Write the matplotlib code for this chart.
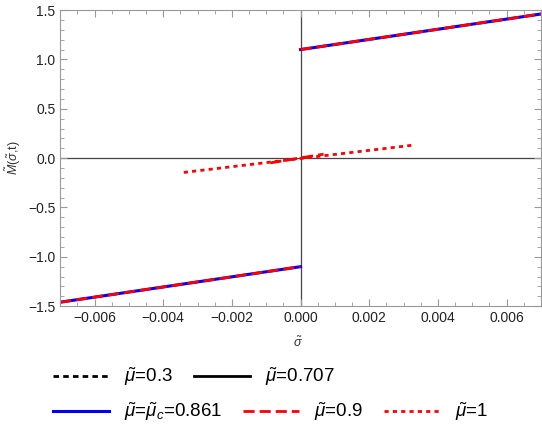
import matplotlib.pyplot as plt
import numpy as np
from matplotlib.ticker import MultipleLocator

plt.rcParams['font.family'] = ['Liberation Sans', 'DejaVu Sans']
plt.rcParams['mathtext.fontset'] = 'custom'
plt.rcParams['mathtext.rm'] = 'Liberation Sans'
plt.rcParams['mathtext.it'] = 'Liberation Sans:italic'

# curves (nan splits the branches)
sig_c = [-0.007, 0.0, np.nan, 0.0, 0.007]
M_c = [-1.46, -1.10, np.nan, 1.10, 1.46]
sig_09 = [-0.007, 0.0, np.nan, 0.0, 0.007, np.nan, -0.00088, 0.00067]
M_09 = [-1.46, -1.10, np.nan, 1.10, 1.46, np.nan, -0.048, 0.040]
sig_1 = [-0.0034, 0.00324]
M_1 = [-0.145, 0.13]

fig = plt.figure(figsize=(5.42, 4.38), dpi=100)
ax = fig.add_axes([0.111, 0.301, 0.887, 0.676])

# mu=0.3 and mu=0.707 fall outside the window, legend only
l03, = ax.plot([], [], color='black', ls=(0, (2, 1.5)), lw=2)
l07, = ax.plot([], [], color='black', ls='-', lw=2)
lc, = ax.plot(sig_c, M_c, color='#0000ff', lw=2.2)
l09, = ax.plot(sig_09, M_09, color='#ff0000', ls=(0, (4, 1.8)), lw=2)
l1, = ax.plot(sig_1, M_1, color='#ff0000', ls=(0, (1.5, 1.5)), lw=2)

ax.axhline(0, color='#444444', lw=0.9, zorder=0)
ax.axvline(0, color='#444444', lw=0.9, zorder=0)

ax.set_xlim(-0.007, 0.007)
ax.set_ylim(-1.5, 1.5)
ax.xaxis.set_minor_locator(MultipleLocator(0.0005))
ax.yaxis.set_minor_locator(MultipleLocator(0.1))
ax.set_xticks([-0.006, -0.004, -0.002, 0, 0.002, 0.004, 0.006])
ax.set_xticklabels(['\u22120.006', '\u22120.004', '\u22120.002', '0.000', '0.002', '0.004', '0.006'])
ax.set_yticks([-1.5, -1.0, -0.5, 0, 0.5, 1.0, 1.5])
ax.set_yticklabels(['\u22121.5', '\u22121.0', '\u22120.5', '0.0', '0.5', '1.0', '1.5'])
ax.tick_params(which='both', direction='in', top=True, right=True, colors='#999999',
               labelcolor='#222222', labelsize=10)
ax.tick_params(which='major', length=5)
ax.tick_params(which='minor', length=3)
for s in ax.spines.values():
    s.set_color('#999999')

fig.text(0.55, 0.217, r'$\tilde{\sigma}$', ha='center', va='center', fontsize=9, color='#333333')
fig.text(0.025, 0.64, r'$\tilde{M}(\tilde{\sigma}$,t)', rotation=90, ha='center', va='center',
         fontsize=9, color='#333333')

kw = dict(frameon=False, fontsize=13.5, handlelength=3.0, handletextpad=0.8,
          columnspacing=1.1, loc='center left', borderpad=0, borderaxespad=0)
leg1 = fig.legend([l03, l07], [r'$\tilde{\mu}$=0.3', r'$\tilde{\mu}$=0.707'],
                  ncol=2, bbox_to_anchor=(0.098, 0.139), **kw)
leg2 = fig.legend([lc, l09, l1],
                  [r'$\tilde{\mu}$=$\tilde{\mu}_c$=0.861', r'$\tilde{\mu}$=0.9', r'$\tilde{\mu}$=1'],
                  ncol=3, bbox_to_anchor=(0.098, 0.059), **kw)

fig.savefig('out.png', dpi=100)
